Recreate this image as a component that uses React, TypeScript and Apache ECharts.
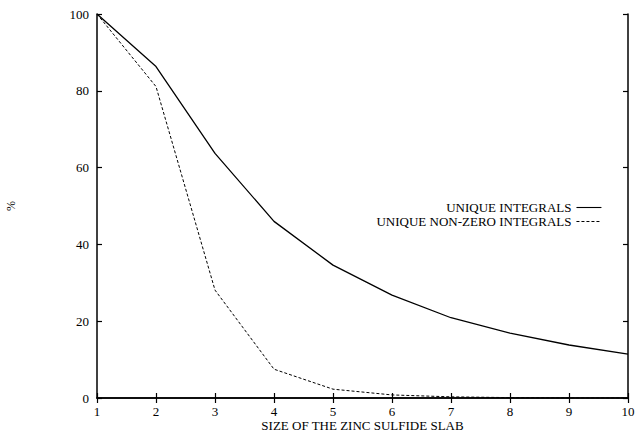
import React, { useEffect, useRef } from "react";
import * as echarts from "echarts";

const sizes = ["1", "2", "3", "4", "5", "6", "7", "8", "9", "10"];
const xValues = [1, 2, 3, 4, 5, 6, 7, 8, 9, 10];
const uniqueIntegrals = [100, 86.3, 63.7, 46.0, 34.6, 26.8, 20.9, 16.9, 13.8, 11.4];
const uniqueNonZero = [100, 81.1, 28.1, 7.5, 2.3, 0.8, 0.3, 0.1, 0, 0];
const seriesNames = ["UNIQUE INTEGRALS", "UNIQUE NON-ZERO INTEGRALS"];

const FONT = "Liberation Serif";

export default function App() {
  const ref = useRef<HTMLDivElement>(null);
  useEffect(() => {
    if (!ref.current) return;
    const chart = echarts.init(ref.current, undefined, { renderer: "svg" });
    const axisLine = { show: true, lineStyle: { color: "#000", width: 1.5 } };
    const tick = { show: true, inside: true, length: 5, lineStyle: { color: "#000", width: 1.2 } };
    const legendBase = {
      right: 33,
      align: "right",
      itemWidth: 25,
      itemHeight: 12,
      itemGap: 9,
      padding: 0,
      itemStyle: { opacity: 0 },
      lineStyle: { width: 1.1 },
      textStyle: { fontFamily: FONT, fontSize: 13, lineHeight: 12, color: "#000" },
    };
    chart.setOption({
      animation: false,
      backgroundColor: "#fff",
      textStyle: { fontFamily: FONT, color: "#000" },
      grid: { left: 97, right: 7, top: 14, bottom: 35, containLabel: false, outerBoundsMode: "none" },
      legend: [
        { ...legendBase, data: [seriesNames[0]], top: 201 },
        { ...legendBase, data: [seriesNames[1]], top: 215 },
      ],
      xAxis: [
        {
          type: "value",
          min: 1,
          max: 10,
          interval: 1,
          position: "bottom",
          axisLine,
          axisTick: tick,
          splitLine: { show: false },
          axisLabel: {
            fontFamily: FONT,
            fontSize: 13,
            color: "#000",
            margin: 7,
            formatter: (v: number) => sizes[xValues.indexOf(v)] ?? String(v),
          },
          name: "SIZE OF THE ZINC SULFIDE SLAB",
          nameLocation: "middle",
          nameGap: 21,
          nameMoveOverlap: false,
          nameTextStyle: { fontFamily: FONT, fontSize: 13, color: "#000" },
        },
        {
          type: "value",
          min: 1,
          max: 10,
          interval: 1,
          position: "top",
          axisLine,
          axisTick: tick,
          splitLine: { show: false },
          axisLabel: { show: false },
        },
      ],
      yAxis: [
        {
          type: "value",
          min: 0,
          max: 100,
          interval: 20,
          position: "left",
          axisLine,
          axisTick: tick,
          splitLine: { show: false },
          axisLabel: { fontFamily: FONT, fontSize: 13, color: "#000", margin: 8 },
          name: "%",
          nameLocation: "middle",
          nameGap: 80,
          nameRotate: 90,
          nameMoveOverlap: false,
          nameTextStyle: { fontFamily: FONT, fontSize: 12, color: "#000" },
        },
        {
          type: "value",
          min: 0,
          max: 100,
          interval: 20,
          position: "right",
          axisLine,
          axisTick: tick,
          splitLine: { show: false },
          axisLabel: { show: false },
        },
      ],
      series: [
        {
          name: seriesNames[0],
          type: "line",
          data: xValues.map((x, i) => [x, uniqueIntegrals[i]]),
          symbol: "none",
          lineStyle: { color: "#000", width: 1.3, type: "solid" },
          itemStyle: { color: "#000" },
        },
        {
          name: seriesNames[1],
          type: "line",
          data: xValues.map((x, i) => [x, uniqueNonZero[i]]),
          symbol: "none",
          lineStyle: { color: "#000", width: 1, type: [3, 2] },
          itemStyle: { color: "#000" },
        },
      ],
    });
    return () => chart.dispose();
  }, []);
  return (
    <div
      ref={ref}
      style={{ position: "fixed", left: 0, top: 0, width: 635, height: 433 }}
    />
  );
}
